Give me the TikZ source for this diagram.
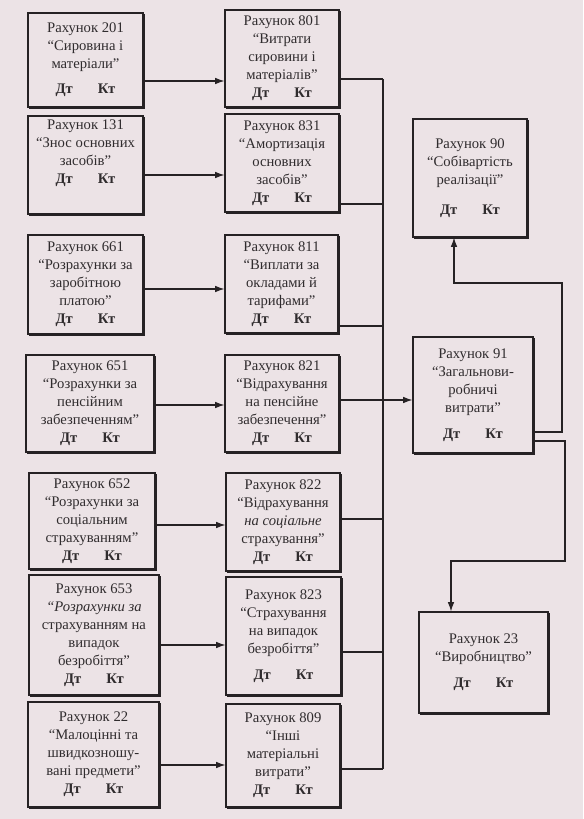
\documentclass[tikz,border=0pt]{standalone}
\usepackage{fontspec}
\setmainfont{Liberation Serif}
\usetikzlibrary{arrows.meta,calc}
\definecolor{paper}{RGB}{236,227,230}
\definecolor{ink}{RGB}{38,34,36}
\definecolor{txt}{RGB}{48,44,46}
\newcommand\dk{\textbf{Дт\hspace{1.7em}Кт}}
\newcommand\bx[6]{\node[acct, minimum width={(#4-#2)*0.75pt}, minimum height={(#5-#3)*0.75pt}] (#1) at ({(#2+#4)/2},{(#3+#5)/2}) {#6};}
\begin{document}
\begin{tikzpicture}[x=0.75pt,y=-0.75pt,
  acct/.style={draw=ink, line width=0.9pt, fill=paper, inner sep=0pt, align=center, text=txt,
    font=\fontsize{11}{13.5}\selectfont},
  conn/.style={draw=ink, line width=0.8pt},
  arr/.style={conn, -{Latex[length=7pt,width=5pt]}},
  shade/.style={draw=ink, line width=1.3pt}]
\fill[paper] (0,0) rectangle (583,819);
% left column
\bx{b201}{28}{13}{143}{107}{Рахунок 201\\“Сировина і\\матеріали”\\[5pt]\dk}
\bx{b131}{28}{116}{143}{214}{Рахунок 131\\“Знос основних\\засобів”\\\dk\\[6pt]}
\bx{b661}{28}{235}{143}{334}{Рахунок 661\\“Розрахунки за\\заробітною\\платою”\\\dk}
\bx{b651}{26}{355}{154}{452}{Рахунок 651\\“Розрахунки за\\пенсійним\\забезпеченням”\\\dk}
\bx{b652}{29}{473}{155}{569}{Рахунок 652\\“Розрахунки за\\соціальним\\страхуванням”\\\dk}
\bx{b653}{29}{575}{159}{695}{Рахунок 653\\\textit{“Розрахунки за}\\страхуванням на\\випадок\\безробіття”\\\dk}
\bx{b22}{28}{702}{159}{807}{Рахунок 22\\“Малоцінні та\\швидкозношу-\\вані предмети”\\\dk}
% middle column
\bx{b801}{225}{10}{339}{107}{Рахунок 801\\“Витрати\\сировини і\\матеріалів”\\\dk}
\bx{b831}{225}{114}{339}{212}{Рахунок 831\\“Амортизація\\основних\\засобів”\\\dk}
\bx{b811}{225}{235}{338}{333}{Рахунок 811\\“Виплати за\\окладами й\\тарифами”\\\dk}
\bx{b821}{225}{355}{339}{452}{Рахунок 821\\“Відрахування\\на пенсійне\\забезпечення”\\\dk}
\bx{b822}{226}{473}{340}{571}{Рахунок 822\\“Відрахування\\\textit{на соціальне}\\страхування”\\\dk}
\bx{b823}{226}{577}{341}{695}{Рахунок 823\\“Страхування\\на випадок\\безробіття”\\[6pt]\dk}
\bx{b809}{226}{704}{340}{807}{Рахунок 809\\“Інші\\матеріальні\\витрати”\\\dk}
% right column
\bx{b90}{413}{119}{527}{237}{Рахунок 90\\“Собівартість\\реалізації”\\[9pt]\dk}
\bx{b91}{413}{337}{533}{453}{Рахунок 91\\“Загальнови-\\робничі\\витрати”\\[6pt]\dk}
\bx{b23}{419}{612}{548}{713}{Рахунок 23\\“Виробництво”\\[6pt]\dk}
% shadows (thick right and bottom edges)
\foreach \n in {b201,b131,b661,b651,b652,b653,b22,b801,b831,b811,b821,b822,b823,b809,b90,b91,b23}
  \draw[shade] ([xshift=0.7pt,yshift=-1.5pt]\n.north east) -- ([xshift=0.7pt,yshift=-0.7pt]\n.south east) -- ([xshift=1.5pt,yshift=-0.7pt]\n.south west);
% arrows left -> middle
\coordinate (a1) at (0,81);
\coordinate (a2) at (0,175);
\coordinate (a3) at (0,289);
\coordinate (a4) at (0,405);
\coordinate (a5) at (0,525);
\coordinate (a6) at (0,645);
\coordinate (a7) at (0,765);
\draw[arr] (a1 -| b201.east) -- (a1 -| b801.west);
\draw[arr] (a2 -| b131.east) -- (a2 -| b831.west);
\draw[arr] (a3 -| b661.east) -- (a3 -| b811.west);
\draw[arr] (a4 -| b651.east) -- (a4 -| b821.west);
\draw[arr] (a5 -| b652.east) -- (a5 -| b822.west);
\draw[arr] (a6 -| b653.east) -- (a6 -| b823.west);
\draw[arr] (a7 -| b22.east) -- (a7 -| b809.west);
% bus
\coordinate (j801) at (383,79);
\coordinate (j831) at (383,204);
\coordinate (j811) at (383,326);
\coordinate (j821) at (383,400);
\coordinate (j822) at (383,519);
\coordinate (j823) at (383,652);
\coordinate (j809) at (383,769);
\draw[conn] (j801) -- (j809);
\draw[conn] (j801 -| b801.east) -- (j801);
\draw[conn] (j831 -| b831.east) -- (j831);
\draw[conn] (j811 -| b811.east) -- (j811);
\draw[conn] (j822 -| b822.east) -- (j822);
\draw[conn] (j823 -| b823.east) -- (j823);
\draw[conn] (j809 -| b809.east) -- (j809);
\draw[arr] (j821 -| b821.east) -- (j821 -| b91.west);
% 91 -> 90 and 91 -> 23
\coordinate (r1) at (562,432);
\coordinate (r2) at (454,283);
\draw[arr] (r1 -| b91.east) -- (r1) |- (r2) -- (r2 |- b90.south);
\coordinate (s1) at (565,441);
\coordinate (s2) at (451,561);
\draw[arr] (s1 -| b91.east) -- (s1) |- (s2) -- (s2 |- b23.north);
\end{tikzpicture}
\end{document}
